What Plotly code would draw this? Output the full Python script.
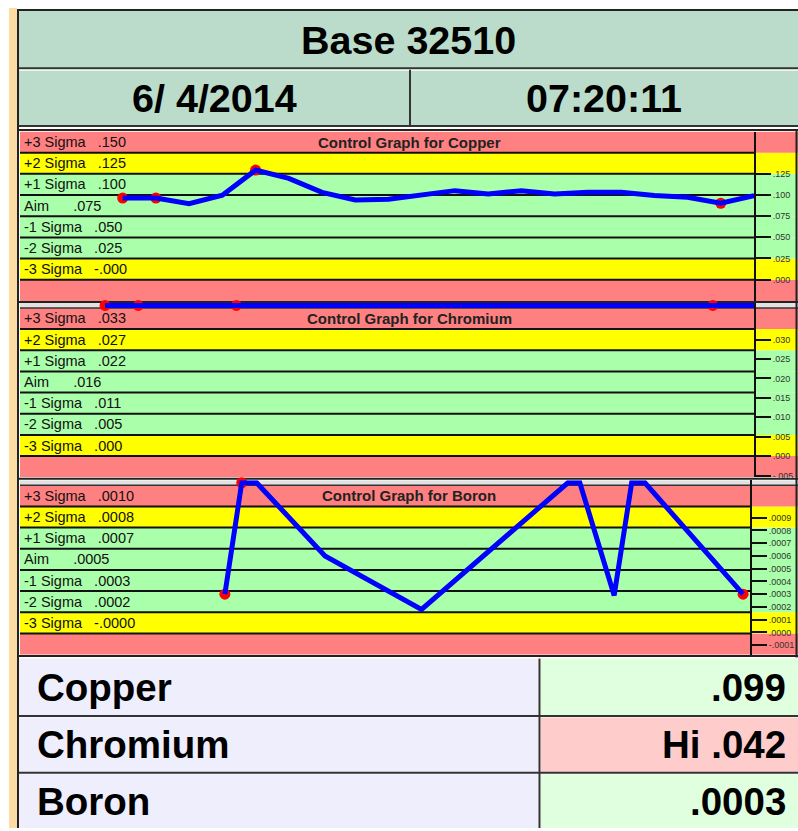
import plotly.graph_objects as go
import numpy as np

W, H = 798, 831
FONT = "Liberation Sans, Arial, sans-serif"


def px(x):
    return x / W


def py(y):
    return 1 - y / H


# ---------------- data ----------------
header_title = "Base 32510"
header_date = "6/ 4/2014"
header_time = "07:20:11"

elements = ["Copper", "Chromium", "Boron"]
current_text = [".099", "Hi .042", ".0003"]
current_cell_colors = ["#DFFFDF", "#FFCCCC", "#DFFFDF"]

aims = [0.0749, 0.01635, 0.00049]
sigmas = [0.025, 0.00545, 0.000166]

limit_names = ["+3 Sigma", "+2 Sigma", "+1 Sigma", "Aim", "-1 Sigma", "-2 Sigma", "-3 Sigma"]
limit_steps = [3, 2, 1, 0, -1, -2, -3]
limit_values_text = [
    [".150", ".125", ".100", ".075", ".050", ".025", "-.000"],
    [".033", ".027", ".022", ".016", ".011", ".005", ".000"],
    [".0010", ".0008", ".0007", ".0005", ".0003", ".0002", "-.0000"],
]

axis_tickvals = [
    [0.0, 0.025, 0.05, 0.075, 0.1, 0.125],
    [-0.005, 0.0, 0.005, 0.01, 0.015, 0.02, 0.025, 0.03],
    [-0.0001, 0.0, 0.0001, 0.0002, 0.0003, 0.0004, 0.0005, 0.0006, 0.0007, 0.0008, 0.0009],
]
axis_ticktext = [
    [".000", ".025", ".050", ".075", ".100", ".125"],
    ["-.005", ".000", ".005", ".010", ".015", ".020", ".025", ".030"],
    ["-.0001", ".0000", ".0001", ".0002", ".0003", ".0004", ".0005", ".0006", ".0007", ".0008", ".0009"],
]

copper_time = [3, 4, 5, 6, 7, 8, 9, 10, 11, 12, 13, 14, 15, 16, 17, 18, 19, 20, 21, 22]
copper_value = [0.0964, 0.0964, 0.0896, 0.0996, 0.1294, 0.1196, 0.1031, 0.0941, 0.0949, 0.0996,
                0.1051, 0.1011, 0.1051, 0.1011, 0.1031, 0.1031, 0.0993, 0.0973, 0.0902, 0.0990]
copper_flag = [1, 1, 0, 0, 1, 0, 0, 0, 0, 0, 0, 0, 0, 0, 0, 0, 0, 0, 1, 0]

chromium_time = [2.47, 3.47, 4.5, 5.5, 6.42, 7.4, 8.4, 9.4, 10.4, 11.4, 12.4, 13.4, 14.4, 15.4,
                 16.4, 17.4, 18.4, 19.4, 20.76, 22.0]
chromium_value = [0.045, 0.046, 0.044, 0.043, 0.046, 0.047, 0.045, 0.046, 0.045, 0.044,
                  0.046, 0.045, 0.044, 0.045, 0.046, 0.045, 0.044, 0.045, 0.043, 0.042]
chromium_flag = [1, 1, 0, 0, 1, 0, 0, 0, 0, 0, 0, 0, 0, 0, 0, 0, 0, 0, 1, 0]

boron_time = [6.11, 6.62, 7.07, 9.14, 12.06, 16.49, 16.85, 17.89, 18.42, 18.82, 21.79]
boron_value = [0.00030, 0.0014, 0.0014, 0.00060, 0.00018, 0.0014, 0.0014, 0.00029, 0.0014, 0.0014, 0.00030]
boron_flag = [1, 1, 0, 0, 0, 0, 0, 0, 0, 0, 1]

series = [
    (copper_time, copper_value, copper_flag),
    (chromium_time, chromium_value, chromium_flag),
    (boron_time, boron_value, boron_flag),
]

# ---------------- layout geometry (pixels) ----------------
charts = [
    dict(domain_top=132, band_top=132, band_bot=302, x_right=754),
    dict(domain_top=304, band_top=309, band_bot=479, x_right=754),
    dict(domain_top=482, band_top=487, band_bot=657, x_right=750),
]
BAND_COLORS = ["#FF8080", "#FFFF00", "#AAFFAA", "#AAFFAA", "#AAFFAA", "#AAFFAA", "#FFFF00", "#FF8080"]  # bottom-up
PLOT_LEFT = 20

fig = go.Figure()
shapes = []
annotations = []
layout_axes = {}


def hline(y, x0, x1, color="#222", width=2):
    shapes.append(dict(type="line", xref="paper", yref="paper", x0=px(x0), x1=px(x1),
                       y0=py(y), y1=py(y), line=dict(color=color, width=width), layer="below"))


def vline(x, y0, y1, color="#222", width=2):
    shapes.append(dict(type="line", xref="paper", yref="paper", x0=px(x), x1=px(x),
                       y0=py(y0), y1=py(y1), line=dict(color=color, width=width), layer="below"))


def rect(x0, y0, x1, y1, color):
    shapes.append(dict(type="rect", xref="paper", yref="paper", x0=px(x0), x1=px(x1),
                       y0=py(y1), y1=py(y0), fillcolor=color, line=dict(width=0), layer="below"))


def label(x, y, text, size, xanchor="center", color="#000", yref="paper"):
    annotations.append(dict(x=x, y=y, xref="paper", yref=yref, xanchor=xanchor, yanchor="middle",
                            text=text, showarrow=False, font=dict(family=FONT, size=size, color=color)))


# left strip & header
rect(9, 8, 17, 831, "#FCDCA3")
rect(18, 10, 798, 69, "#BBDCCB")
rect(18, 70, 798, 127, "#BBDCCB")
hline(10, 17, 798)
hline(68.5, 18, 798, "#333")
hline(70.5, 18, 798, "#FFFFFF", 1)
vline(410, 70, 127, "#333")
hline(126.5, 18, 798, "#333")
hline(128.5, 18, 798, "#FFFFFF", 1)
hline(130.5, 18, 798)

label(px(408), py(40), "<b>%s</b>" % header_title, 39.5)
label(px(214), py(98.5), "<b>%s</b>" % header_date, 39.5)
label(px(604), py(98.5), "<b>%s</b>" % header_time, 39.5)

NB = "\u00a0"
for i, ch in enumerate(charts):
    n = i + 1
    xa = "x" if n == 1 else "x%d" % n
    ya = "y" if n == 1 else "y%d" % n
    aim, sig = aims[i], sigmas[i]
    pps = (ch["band_bot"] - ch["band_top"]) / 8.0
    lo = aim - 4 * sig
    band_hi = aim + 4 * sig
    hi = band_hi + (ch["band_top"] - ch["domain_top"]) / pps * sig
    cap = band_hi + (ch["band_top"] - ch["domain_top"]) / 2.0 / pps * sig

    # bands
    for b in range(8):
        shapes.append(dict(type="rect", xref="paper", yref=ya, x0=px(PLOT_LEFT), x1=px(798),
                           y0=lo + b * sig, y1=lo + (b + 1) * sig, fillcolor=BAND_COLORS[b],
                           line=dict(width=0), layer="below"))
    if hi > band_hi:
        shapes.append(dict(type="rect", xref="paper", yref=ya, x0=px(PLOT_LEFT), x1=px(798),
                           y0=band_hi, y1=hi, fillcolor="#E2E2E2", line=dict(width=0), layer="below"))
        shapes.append(dict(type="line", xref="paper", yref=ya, x0=px(PLOT_LEFT), x1=px(798),
                           y0=band_hi, y1=band_hi, line=dict(color="#333", width=1.5), layer="below"))
    # limit lines
    for k in limit_steps:
        v = aim + k * sig
        shapes.append(dict(type="line", xref="paper", yref=ya, x0=px(PLOT_LEFT), x1=px(ch["x_right"]),
                           y0=v, y1=v, line=dict(color="#111", width=2), layer="below"))
    # limit labels
    for name, k, vt in zip(limit_names, limit_steps, limit_values_text[i]):
        pad = NB * (6 if name == "Aim" else 3)
        label(px(22), aim + k * sig + sig / 2, name + pad + vt, 14.5, xanchor="left", color="#111", yref=ya)
    label(px(409), aim + 3.5 * sig, "<b>Control Graph for %s</b>" % elements[i], 15, color="#222", yref=ya)

    t, v, f = series[i]
    vc = np.clip(np.array(v, dtype=float), lo, cap)
    tm = [tt for tt, ff in zip(t, f) if ff]
    vm = [vv for vv, ff in zip(vc, f) if ff]
    fig.add_trace(go.Scatter(x=tm, y=vm, mode="markers", xaxis=xa, yaxis=ya, cliponaxis=False,
                             marker=dict(color="#FF0000", size=11), showlegend=False, hoverinfo="skip"))
    fig.add_trace(go.Scatter(x=t, y=vc, mode="lines", xaxis=xa, yaxis=ya,
                             line=dict(color="#0000FF", width=5), showlegend=False))

    layout_axes["xaxis" if n == 1 else "xaxis%d" % n] = dict(
        domain=[px(PLOT_LEFT), px(ch["x_right"])], range=[-0.09, 22.0], visible=False,
        anchor=ya, fixedrange=True)
    layout_axes["yaxis" if n == 1 else "yaxis%d" % n] = dict(
        domain=[py(ch["band_bot"]), py(ch["domain_top"])], range=[lo, hi], anchor=xa, side="right",
        showline=True, linecolor="#111", linewidth=2, ticks="outside", ticklen=15, tickwidth=2,
        tickcolor="#111", tickvals=axis_tickvals[i], ticktext=axis_ticktext[i],
        tickfont=dict(family=FONT, size=9, color="#333"), showgrid=False, zeroline=False,
        fixedrange=True)

# chart frame lines
hline(303, 18, 798)
hline(480.5, 18, 798)
hline(658.5, 18, 798)
hline(660.5, 18, 798, "#FFFFFF", 1)
vline(796.5, 130, 660)

# bottom table
row_bounds = [(661, 718), (720, 775), (777, 831)]
for (y0, y1), name, val, col in zip(row_bounds, elements, current_text, current_cell_colors):
    rect(19, y0, 539, y1, "#EEEEFC")
    rect(541, y0, 798, y1, col)
    label(px(35), py((y0 + y1) / 2), "<b>%s</b>" % name, 38.5, xanchor="left")
    label(px(788), py((y0 + y1) / 2), "<b>%s</b>" % val, 38.5, xanchor="right")
hline(718.5, 18, 798, "#333")
hline(775.5, 18, 798, "#333")
vline(539.5, 661, 831, "#333")
vline(18, 9, 831)

fig.update_layout(
    width=W, height=H, margin=dict(l=0, r=0, t=0, b=0),
    paper_bgcolor="#FFFFFF", plot_bgcolor="rgba(0,0,0,0)",
    shapes=shapes, annotations=annotations, showlegend=False,
    **layout_axes,
)

fig.write_html("out.html", config={"displayModeBar": False},
               post_script="document.body.style.margin='0px';document.body.style.overflow='hidden';")
